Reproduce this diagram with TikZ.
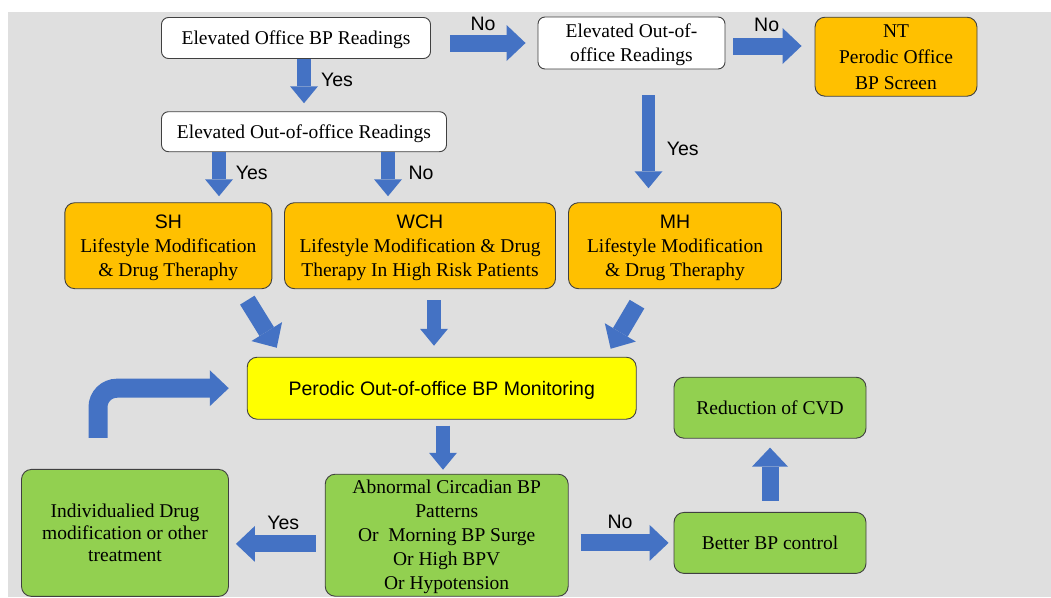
\documentclass[tikz,border=0pt]{standalone}
\usepackage{fontspec}
\setmainfont{Liberation Serif}
\setsansfont{Liberation Sans}
\usetikzlibrary{positioning}
\usetikzlibrary{arrows.meta}
\definecolor{bggray}{RGB}{223,223,223}
\definecolor{boxorange}{RGB}{255,192,0}
\definecolor{boxyellow}{RGB}{255,255,0}
\definecolor{boxgreen}{RGB}{146,208,80}
\definecolor{arrowblue}{RGB}{68,114,196}
\newcommand{\FCfont}{\fontsize{19.5}{24}\selectfont}

\begin{document}
\begin{tikzpicture}
    [
    on grid,
    fcbox/.style={draw=black!75, line width=0.9pt, rounded corners=10pt, align=center, inner sep=0pt, font=\FCfont,
      execute at begin node={\rule{0pt}{0.95em}}, execute at end node={\rule[-0.24em]{0pt}{0.24em}}},
    whitebox/.style={fcbox, fill=white, rounded corners=7pt},
    orangebox/.style={fcbox, fill=boxorange},
    yellowbox/.style={fcbox, fill=boxyellow, font=\sffamily\FCfont},
    greenbox/.style={fcbox, fill=boxgreen},
    answer/.style={font=\sffamily\FCfont},
    bigarrow/.style={draw=arrowblue, line width=17pt, -{Triangle[width=36pt,length=19pt,line width=0pt]}},
    smallarrow/.style={draw=arrowblue, line width=13.5pt, -{Triangle[width=28pt,length=17pt,line width=0pt]}},
    ]

    \useasboundingbox (0pt,0pt) rectangle (1051pt,-597pt);
    \fill[bggray] (8pt,-12pt) rectangle (1051pt,-597pt);

    \node[whitebox, minimum width=269pt, minimum height=41pt] (box_office) at (296pt,-38pt)
    {Elevated Office BP Readings};

    \node[whitebox, minimum width=187pt, minimum height=52pt, text depth=-2.3pt, below right = 5pt and 335.5pt of box_office] (box_out_top)
    {Elevated Out-of-\\office Readings};

    \node[orangebox, minimum width=162pt, minimum height=79pt, text depth=-7.3pt, below right = 13.7pt and 264.5pt of box_out_top] (box_nt)
    {NT\\[2pt]Perodic Office\\[2pt]BP Screen};

    \node[whitebox, minimum width=285pt, minimum height=40pt, below right = 93.7pt and 8pt of box_office] (box_out_mid)
    {Elevated Out-of-office Readings};

    \node[orangebox, minimum width=207pt, minimum height=86pt, text depth=-2.5pt, below left = 114pt and 135.7pt of box_out_mid] (box_sh)
    {{\sffamily SH}\\Lifestyle Modification\\\& Drug Theraphy};
    \node[orangebox, minimum width=271pt, minimum height=86pt, text depth=-2.5pt, below right = 114pt and 116pt of box_out_mid] (box_wch)
    {{\sffamily WCH}\\Lifestyle Modification \& Drug\\Therapy In High Risk Patients};
    \node[orangebox, minimum width=213pt, minimum height=86pt, text depth=-2.5pt, right = 255pt of box_wch] (box_mh)
    {{\sffamily MH}\\Lifestyle Modification\\\& Drug Theraphy};

    \node[yellowbox, minimum width=389pt, minimum height=62pt, below right = 142.5pt and 21.7pt of box_wch] (box_monitor)
    {Perodic Out-of-office BP Monitoring};

    \node[greenbox, minimum width=243pt, minimum height=122pt, text depth=-3.3pt, below right = 147pt and 5pt of box_monitor] (box_abnormal)
    {Abnormal Circadian BP\\Patterns\\Or\ \ Morning BP Surge\\Or High BPV\\Or Hypotension};
    \node[greenbox, minimum width=207pt, minimum height=127pt, text depth=-11pt, above left = 2.3pt and 321.7pt of box_abnormal] (box_indiv)
    {Individualied Drug\\[-2pt]modification or other\\[-2pt]treatment};
    \node[greenbox, minimum width=192pt, minimum height=61pt, below right = 7.7pt and 323.3pt of box_abnormal] (box_better)
    {Better BP control};
    \node[greenbox, minimum width=192pt, minimum height=61pt, above = 135.2pt of box_better] (box_cvd)
    {Reduction of CVD};

    % block arrows
    \draw[bigarrow, shorten <=19pt, shorten >=12pt] (box_office.east |- box_out_top.west) -- (box_out_top.west);
    \draw[bigarrow, shorten <=8pt, shorten >=13pt] ([yshift=-3pt]box_out_top.east) -- ([yshift=-3pt]box_out_top.east -| box_nt.west);
    \draw[smallarrow, shorten >=8pt] ([xshift=8pt]box_office.south) -- (box_out_mid.north);
    \draw[smallarrow, shorten >=6pt] ([xshift=-85pt]box_out_mid.south) -- ([xshift=-85pt]box_out_mid.south |- box_sh.north);
    \draw[smallarrow, shorten >=6pt] ([xshift=84pt]box_out_mid.south) -- ([xshift=84pt]box_out_mid.south |- box_wch.north);
    \draw[smallarrow, shorten <=26pt, shorten >=14pt] ([xshift=17pt]box_out_top.south) -- ([xshift=17pt]box_out_top.south |- box_mh.north);

    \draw[bigarrow] ([xshift=79pt,yshift=-11pt]box_sh.south) -- ([xshift=30pt,yshift=9pt]box_monitor.north west);
    \draw[smallarrow, shorten <=11pt, shorten >=11pt] ([xshift=14pt]box_wch.south) -- ([xshift=14pt]box_wch.south |- box_monitor.north);
    \draw[bigarrow] ([xshift=-38pt,yshift=-15pt]box_mh.south) -- ([xshift=-26pt,yshift=8pt]box_monitor.north east);

    \draw[smallarrow, shorten <=6pt, shorten >=4pt] ([xshift=1.3pt]box_monitor.south) -- ([xshift=1.3pt]box_monitor.south |- box_abnormal.north);
    \draw[bigarrow, shorten <=9pt, shorten >=7pt] ([yshift=-8.7pt]box_abnormal.west) -- ([yshift=-8.7pt]box_abnormal.west -| box_indiv.east);
    \draw[bigarrow, shorten <=12pt, shorten >=5pt] (box_better.west -| box_abnormal.east) -- (box_better.west);
    \draw[bigarrow, shorten <=11pt, shorten >=9pt] (box_better.north) -- (box_cvd.south);
    \draw[bigarrow, line width=19pt, rounded corners=19pt, shorten <=31pt, shorten >=18pt] ([xshift=-27pt]box_indiv.north) |- (box_monitor.west);

    % answers
    \node[answer, xshift=187pt, yshift=14pt] (lbl_no_office) at (box_office) {No};
    \node[answer, xshift=41pt, yshift=-42pt] (lbl_yes_office) at (box_office) {Yes};
    \node[answer, xshift=135.2pt, yshift=18pt] (lbl_no_out_top) at (box_out_top) {No};
    \node[answer, xshift=51.2pt, yshift=-106.3pt] (lbl_yes_out_top) at (box_out_top) {Yes};
    \node[answer, xshift=-52.3pt, yshift=-41.6pt] (lbl_yes_out_mid) at (box_out_mid) {Yes};
    \node[answer, xshift=117pt, yshift=-41.6pt] (lbl_no_out_mid) at (box_out_mid) {No};
    \node[answer, xshift=-163.4pt, yshift=12.6pt] (lbl_yes_abnormal) at (box_abnormal) {Yes};
    \node[answer, xshift=173.3pt, yshift=13.6pt] (lbl_no_abnormal) at (box_abnormal) {No};
\end{tikzpicture}
\end{document}
